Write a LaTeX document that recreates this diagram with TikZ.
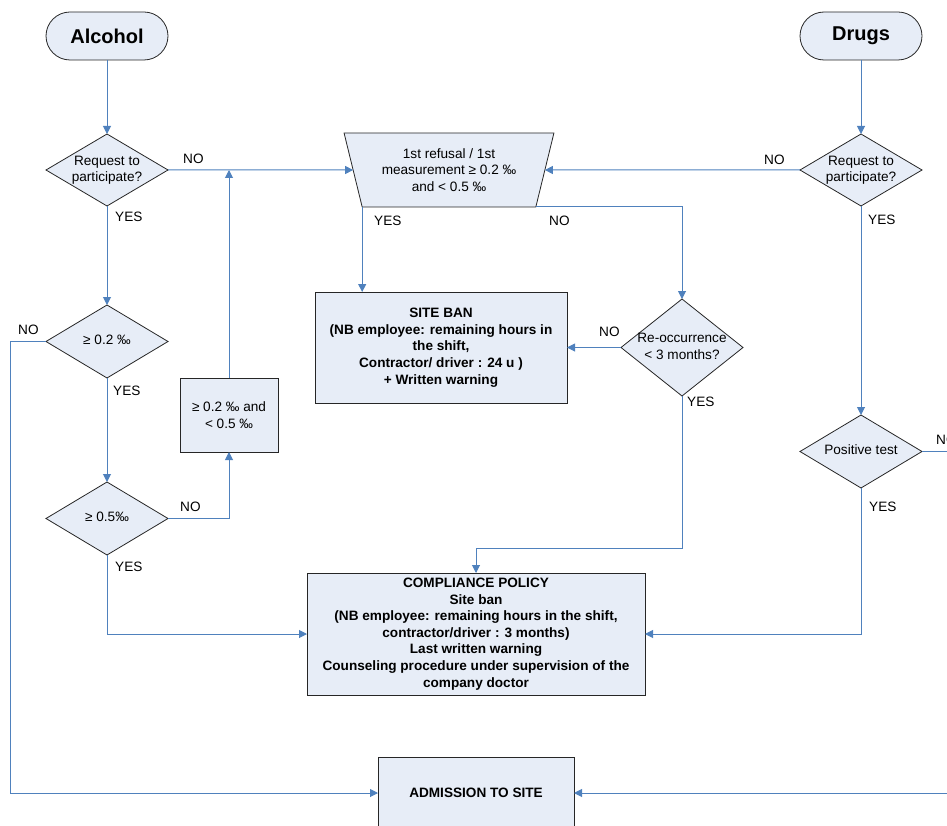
\documentclass[tikz,border=0pt]{standalone}
\usepackage{fontspec}
\setmainfont{Liberation Sans}
\usetikzlibrary{shapes.geometric,arrows.meta}
\definecolor{fillc}{RGB}{231,237,247}
\definecolor{linec}{RGB}{79,129,189}
\newcommand\ztx[1]{\makebox[0pt]{\raisebox{\dimexpr(\depth-\height)/2\relax}[0pt][0pt]{\begin{tabular}{@{}c@{}}#1\end{tabular}}}}
\begin{document}
\begin{tikzpicture}[x=1pt,y=-1pt,
  nfont/.style={font=\fontsize{13.6}{16.6}\selectfont},
  bfont/.style={font=\fontsize{13.6}{16.6}\selectfont\bfseries},
  shp/.style={draw=black!85, fill=fillc, line width=0.8pt, inner sep=0pt, outer sep=0pt},
  box/.style={shp, rectangle, align=center, bfont},
  nbox/.style={shp, rectangle, align=center, nfont},
  term/.style={shp, rectangle, rounded corners=24pt, minimum width=122pt, minimum height=48pt, font=\fontsize{20}{24}\selectfont\bfseries},
  dec/.style={shp, diamond, nfont, minimum width=122pt},
  ln/.style={draw=linec, line width=1pt},
  arr/.style={ln, -{Triangle[length=8pt,width=8pt]}},
  lbl/.style={nfont, inner sep=0pt, anchor=west, text=black}
]
\useasboundingbox (0,0) rectangle (947,826);
\clip (0,0) rectangle (947,826);

% start terminals
\node[term] (alc) at (107,36) {Alcohol};
\node[term] (drg) at (861,36) {Drugs};

% decisions
\node[dec, minimum height=72pt] (req1) at (107,170) {\ztx{Request to\\participate?}};
\node[dec, minimum height=72pt] (req2) at (861,170) {\ztx{Request to\\participate?}};
\node[dec, minimum height=73pt] (ge02) at (107,341.5) {\ztx{≥ 0.2 ‰}};
\node[dec, minimum height=73pt] (ge05) at (107,518.5) {\ztx{≥ 0.5‰}};
\node[dec, minimum height=97pt] (reocc) at (682,347.5) {\ztx{Re-occurrence\\< 3 months?}};
\node[dec, minimum height=73pt] (pos) at (861,451.5) {\ztx{Positive test}};

% trapezium
\node[shp, trapezium, trapezium left angle=108, trapezium right angle=108,
      trapezium stretches=true, minimum width=210pt, minimum height=74pt,
      align=center, nfont] (trap) at (449,170)
      {1st refusal / 1st\\measurement ≥ 0.2 ‰\\and < 0.5 ‰};

% boxes
\node[box, minimum width=252pt, minimum height=111pt] (sb) at (441,347.5)
  {SITE BAN\\(NB employee: remaining hours in\\the shift,\\Contractor/ driver : 24 u )\\+ Written warning};
\node[nbox, minimum width=98pt, minimum height=74pt] (b02) at (229,415)
  {≥ 0.2 ‰ and\\< 0.5 ‰};
\node[box, minimum width=338pt, minimum height=122pt] (comp) at (476,634)
  {COMPLIANCE POLICY\\Site ban\\(NB employee: remaining hours in the shift,\\contractor/driver : 3 months)\\Last written warning\\Counseling procedure under supervision of the\\company doctor};
\node[box, minimum width=196pt, minimum height=72pt] (adm) at (476,793) {ADMISSION TO SITE};

% helper coordinates
\coordinate (lc) at (10,793);
\coordinate (rc) at (965,793);
\coordinate (j1) at (476,548);

% connectors
\draw[arr] (alc.south) -- (req1.north);
\draw[arr] (drg.south) -- (req2.north);
\draw[arr] (req1.east) -- (trap.west);
\draw[arr] (req2.west) -- (trap.east);
\draw[arr] (req1.south) -- (ge02.north);
\draw[arr] (ge02.south) -- (ge05.north);
\draw[arr] (ge02.west) -| (lc) -- (adm.west);
\draw[arr] (ge05.east) -| (b02.south);
\draw[arr] (b02.north) -- (b02.north |- req1.east);
\draw[arr] (ge05.south) |- (comp.west);
\draw[arr] (trap.bottom left corner) -- (trap.bottom left corner |- sb.north);
\draw[arr] (trap.bottom right corner) -| (reocc.north);
\draw[arr] (reocc.west) -- (reocc.west -| sb.east);
\draw[arr] (reocc.south) |- (j1) -- (comp.north);
\draw[arr] (req2.south) -- (pos.north);
\draw[arr] (pos.south) |- (comp.east);
\draw[arr] (pos.east) -| (rc) -- (adm.east);

% labels
\node[lbl] (l1) at (183,159) {NO};
\node[lbl] (l2) at (115,217) {YES};
\node[lbl] (l3) at (764,160) {NO};
\node[lbl] (l4) at (868,220) {YES};
\node[lbl] (l5) at (374,221) {YES};
\node[lbl] (l6) at (549,221) {NO};
\node[lbl] (l7) at (599,332) {NO};
\node[lbl] (l8) at (687,402) {YES};
\node[lbl] (l9) at (18,330) {NO};
\node[lbl] (l10) at (113,391) {YES};
\node[lbl] (l11) at (180,507) {NO};
\node[lbl] (l12) at (115,567) {YES};
\node[lbl] (l13) at (869,507) {YES};
\node[lbl] (l14) at (936,440) {NO};
\end{tikzpicture}
\end{document}
